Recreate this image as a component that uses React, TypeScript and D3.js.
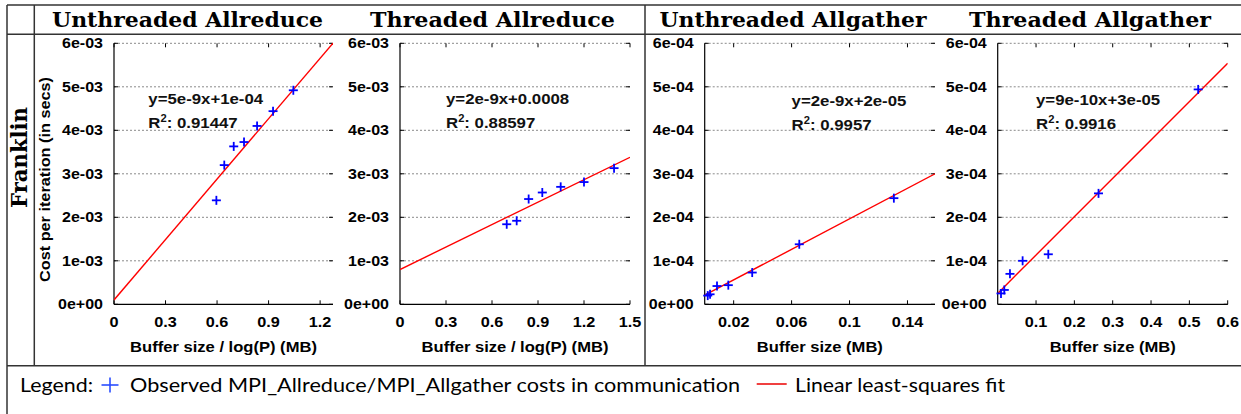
import React from "react";
import * as d3 from "d3";

// ---------------- data ----------------
const titles = ["Unthreaded Allreduce", "Threaded Allreduce", "Unthreaded Allgather", "Threaded Allgather"];
const rowLabel = "Franklin";
const yAxisLabel = "Cost per iteration (in secs)";
const xAxisLabels = ["Buffer size / log(P) (MB)", "Buffer size / log(P) (MB)", "Buffer size (MB)", "Buffer size (MB)"];

const unthreadedAllreduceX = [0.596, 0.642, 0.697, 0.757, 0.833, 0.926, 1.044];
const unthreadedAllreduceY = [2.39e-3, 3.2e-3, 3.63e-3, 3.73e-3, 4.1e-3, 4.44e-3, 4.92e-3];
const threadedAllreduceX = [0.696, 0.761, 0.839, 0.928, 1.048, 1.2, 1.396];
const threadedAllreduceY = [1.84e-3, 1.92e-3, 2.42e-3, 2.57e-3, 2.7e-3, 2.81e-3, 3.13e-3];
const unthreadedAllgatherX = [0.0021, 0.0037, 0.0085, 0.0163, 0.0328, 0.0653, 0.1306];
const unthreadedAllgatherY = [0.2e-4, 0.23e-4, 0.42e-4, 0.44e-4, 0.73e-4, 1.38e-4, 2.44e-4];
const threadedAllgatherX = [0.0086, 0.0172, 0.032, 0.065, 0.132, 0.263, 0.523];
const threadedAllgatherY = [0.25e-4, 0.33e-4, 0.7e-4, 1.0e-4, 1.15e-4, 2.55e-4, 4.94e-4];

const fitIntercepts = [1e-4, 8e-4, 2.1e-5, 2.5e-5];
const fitSlopes = [4.63e-3, 1.72e-3, 1.755e-3, 8.82e-4];
const equations = ["y=5e-9x+1e-04", "y=2e-9x+0.0008", "y=2e-9x+2e-05", "y=9e-10x+3e-05"];
const r2Values = ["0.91447", "0.88597", "0.9957", "0.9916"];

const xDomainMax = [1.275, 1.5, 0.159, 0.6];
const allreduceYTicks = [0, 1e-3, 2e-3, 3e-3, 4e-3, 5e-3, 6e-3];
const allreduceYLabels = ["0e+00", "1e-03", "2e-03", "3e-03", "4e-03", "5e-03", "6e-03"];
const allgatherYTicks = [0, 1e-4, 2e-4, 3e-4, 4e-4, 5e-4, 6e-4];
const allgatherYLabels = ["0e+00", "1e-04", "2e-04", "3e-04", "4e-04", "5e-04", "6e-04"];
const xTicksUA = [0, 0.3, 0.6, 0.9, 1.2];
const xTicksTA = [0, 0.3, 0.6, 0.9, 1.2, 1.5];
const xTicksUG = [0.02, 0.06, 0.1, 0.14];
const xTicksTG = [0.1, 0.2, 0.3, 0.4, 0.5, 0.6];
const xTickLabelsUA = ["0", "0.3", "0.6", "0.9", "1.2"];
const xTickLabelsTA = ["0", "0.3", "0.6", "0.9", "1.2", "1.5"];
const xTickLabelsUG = ["0.02", "0.06", "0.1", "0.14"];
const xTickLabelsTG = ["0.1", "0.2", "0.3", "0.4", "0.5", "0.6"];

const legendPrefix = "Legend:";
const legendObserved = "Observed MPI_Allreduce/MPI_Allgather costs in communication";
const legendFit = "Linear least-squares fit";

// ---------------- layout ----------------
const W = 1241;
const H = 414;
const plotTop = 43.3;
const plotBottom = 304.3;
const plotLefts = [114, 400, 704.7, 997.7];
const plotRights = [333, 630, 935, 1227.7];
const titleCenters = [187.5, 492.5, 793, 1090];
const titleWidths = [271, 245, 267, 242];
const eqPos = [
  [0.2, 4.6e-3],
  [0.3, 4.6e-3],
  [0.06, 4.56e-4],
  [0.1, 4.58e-4],
];

const panels = [
  { xs: unthreadedAllreduceX, ys: unthreadedAllreduceY, yTicks: allreduceYTicks, yLabels: allreduceYLabels, xTicks: xTicksUA, xLabels: xTickLabelsUA },
  { xs: threadedAllreduceX, ys: threadedAllreduceY, yTicks: allreduceYTicks, yLabels: allreduceYLabels, xTicks: xTicksTA, xLabels: xTickLabelsTA },
  { xs: unthreadedAllgatherX, ys: unthreadedAllgatherY, yTicks: allgatherYTicks, yLabels: allgatherYLabels, xTicks: xTicksUG, xLabels: xTickLabelsUG },
  { xs: threadedAllgatherX, ys: threadedAllgatherY, yTicks: allgatherYTicks, yLabels: allgatherYLabels, xTicks: xTicksTG, xLabels: xTickLabelsTG },
];

const helv = "'Liberation Sans', Arial, sans-serif";
const SX = 1.12;
const tickLen = 4;

function SText({
  x,
  y,
  anchor = "start",
  size = 14.3,
  rotate = 0,
  fill = "#000",
  children,
}: {
  x: number;
  y: number;
  anchor?: string;
  size?: number;
  rotate?: number;
  fill?: string;
  children: React.ReactNode;
}) {
  const tr = rotate ? `translate(${x},${y}) rotate(${rotate}) scale(${SX},1)` : `translate(${x},${y}) scale(${SX},1)`;
  return (
    <text transform={tr} textAnchor={anchor} fontFamily={helv} fontWeight="bold" fontSize={size} fill={fill}>
      {children}
    </text>
  );
}

function Panel({ i }: { i: number }) {
  const p = panels[i];
  const x = d3.scaleLinear().domain([0, xDomainMax[i]]).range([plotLefts[i], plotRights[i]]);
  const yMax = p.yTicks[p.yTicks.length - 1];
  const y = d3.scaleLinear().domain([0, yMax]).range([plotBottom, plotTop]);
  const fitX = [0, xDomainMax[i]];
  const line = d3
    .line<number>()
    .x((d) => x(d))
    .y((d) => y(fitIntercepts[i] + fitSlopes[i] * d));
  const clipId = `clip${i}`;
  const arm = 4.5;
  const [ex, ey] = eqPos[i];
  return (
    <g>
      <defs>
        <clipPath id={clipId}>
          <rect x={plotLefts[i]} y={plotTop - 1} width={plotRights[i] - plotLefts[i]} height={plotBottom - plotTop + 1} />
        </clipPath>
      </defs>
      {p.yTicks.slice(1).map((t, k) => (
        <line key={"g" + k} x1={plotLefts[i]} x2={plotRights[i]} y1={y(t)} y2={y(t)} stroke="#8a8a8a" strokeWidth={1} strokeDasharray="2,2" />
      ))}
      {p.yTicks.map((t, k) => (
        <g key={"yt" + k}>
          <line x1={plotLefts[i]} x2={plotLefts[i] + tickLen} y1={y(t)} y2={y(t)} stroke="#000" strokeWidth={1} />
          <line x1={plotRights[i] - tickLen} x2={plotRights[i]} y1={y(t)} y2={y(t)} stroke="#000" strokeWidth={1} />
          <SText x={plotLefts[i] - 11} y={y(t) + 5} anchor="end">
            {p.yLabels[k]}
          </SText>
        </g>
      ))}
      {p.xTicks.map((t, k) => (
        <g key={"xt" + k}>
          <line x1={x(t)} x2={x(t)} y1={plotBottom} y2={plotBottom - tickLen} stroke="#000" strokeWidth={1} />
          <line x1={x(t)} x2={x(t)} y1={plotTop} y2={plotTop + tickLen} stroke="#000" strokeWidth={1} />
          <SText x={x(t)} y={326.7} anchor="middle" size={14.5}>
            {p.xLabels[k]}
          </SText>
        </g>
      ))}
      <line x1={plotLefts[i]} x2={plotLefts[i]} y1={plotTop} y2={plotBottom} stroke="#000" strokeWidth={1.2} />
      <line x1={plotLefts[i]} x2={plotRights[i]} y1={plotBottom} y2={plotBottom} stroke="#000" strokeWidth={1.2} />
      <path d={line(fitX) || ""} fill="none" stroke="#ff0000" strokeWidth={1.4} clipPath={`url(#${clipId})`} />
      {p.xs.map((xv, k) => {
        const cx = x(xv);
        const cy = y(p.ys[k]);
        return (
          <g key={"p" + k} stroke="#0000ff" strokeWidth={1.8}>
            <line x1={cx - arm} x2={cx + arm} y1={cy} y2={cy} />
            <line x1={cx} x2={cx} y1={cy - arm} y2={cy + arm} />
          </g>
        );
      })}
      <SText x={x(ex)} y={y(ey)} size={15} fill="#111">
        {equations[i]}
      </SText>
      <SText x={x(ex)} y={y(ey) + 24} size={15} fill="#111">
        R<tspan fontSize={10} dy={-6}>2</tspan>
        <tspan dy={6}>: {r2Values[i]}</tspan>
      </SText>
      <SText x={(plotLefts[i] + plotRights[i]) / 2} y={352} anchor="middle" size={14.8}>
        {xAxisLabels[i]}
      </SText>
      <text
        x={titleCenters[i]}
        y={26.7}
        textAnchor="middle"
        fontFamily="'DejaVu Serif', serif"
        fontWeight="bold"
        fontSize={20.5}
        textLength={titleWidths[i]}
        lengthAdjust="spacingAndGlyphs"
        fill="#000"
      >
        {titles[i]}
      </text>
    </g>
  );
}

export default function App() {
  const border = "#333";
  const bw = 1.5;
  return (
    <svg width={W} height={H} style={{ position: "absolute", left: 0, top: 0, background: "#fff" }}>
      <rect x={0} y={0} width={W} height={H} fill="#fff" />
      <line x1={7} x2={W} y1={5} y2={5} stroke={border} strokeWidth={bw} />
      <line x1={7} x2={W} y1={34.3} y2={34.3} stroke={border} strokeWidth={bw} />
      <line x1={7} x2={W} y1={365.7} y2={365.7} stroke={border} strokeWidth={bw} />
      <line x1={7} x2={7} y1={5} y2={H} stroke={border} strokeWidth={bw} />
      <line x1={34.3} x2={34.3} y1={5} y2={365.7} stroke={border} strokeWidth={bw} />
      <line x1={645} x2={645} y1={5} y2={365.7} stroke={border} strokeWidth={bw} />

      <text
        transform="translate(27,157.5) rotate(-90)"
        textAnchor="middle"
        fontFamily="'DejaVu Serif', serif"
        fontWeight="bold"
        fontSize={21.5}
        textLength={101}
        lengthAdjust="spacingAndGlyphs"
        fill="#000"
      >
        {rowLabel}
      </text>
      <text
        transform={`translate(50,179.5) rotate(-90)`}
        textAnchor="middle"
        fontFamily={helv}
        fontWeight="bold"
        fontSize={14.3}
        textLength={205}
        lengthAdjust="spacingAndGlyphs"
        fill="#000"
      >
        {yAxisLabel}
      </text>

      {panels.map((_, i) => (
        <Panel key={i} i={i} />
      ))}

      <text x={20} y={391.5} fontFamily="Lato, sans-serif" fontSize={20} textLength={73} lengthAdjust="spacingAndGlyphs" fill="#000">
        {legendPrefix}
      </text>
      <g stroke="#2a4dff" strokeWidth={1.6}>
        <line x1={101.5} x2={118.5} y1={385} y2={385} />
        <line x1={110} x2={110} y1={377.5} y2={392.5} />
      </g>
      <text x={130} y={391.5} fontFamily="Lato, sans-serif" fontSize={20} textLength={610} lengthAdjust="spacingAndGlyphs" fill="#000">
        {legendObserved}
      </text>
      <line x1={756.7} x2={786.7} y1={384} y2={384} stroke="#f04040" strokeWidth={2} />
      <text x={795} y={391.5} fontFamily="Lato, sans-serif" fontSize={20} textLength={210} lengthAdjust="spacingAndGlyphs" fill="#000">
        {legendFit}
      </text>
    </svg>
  );
}
